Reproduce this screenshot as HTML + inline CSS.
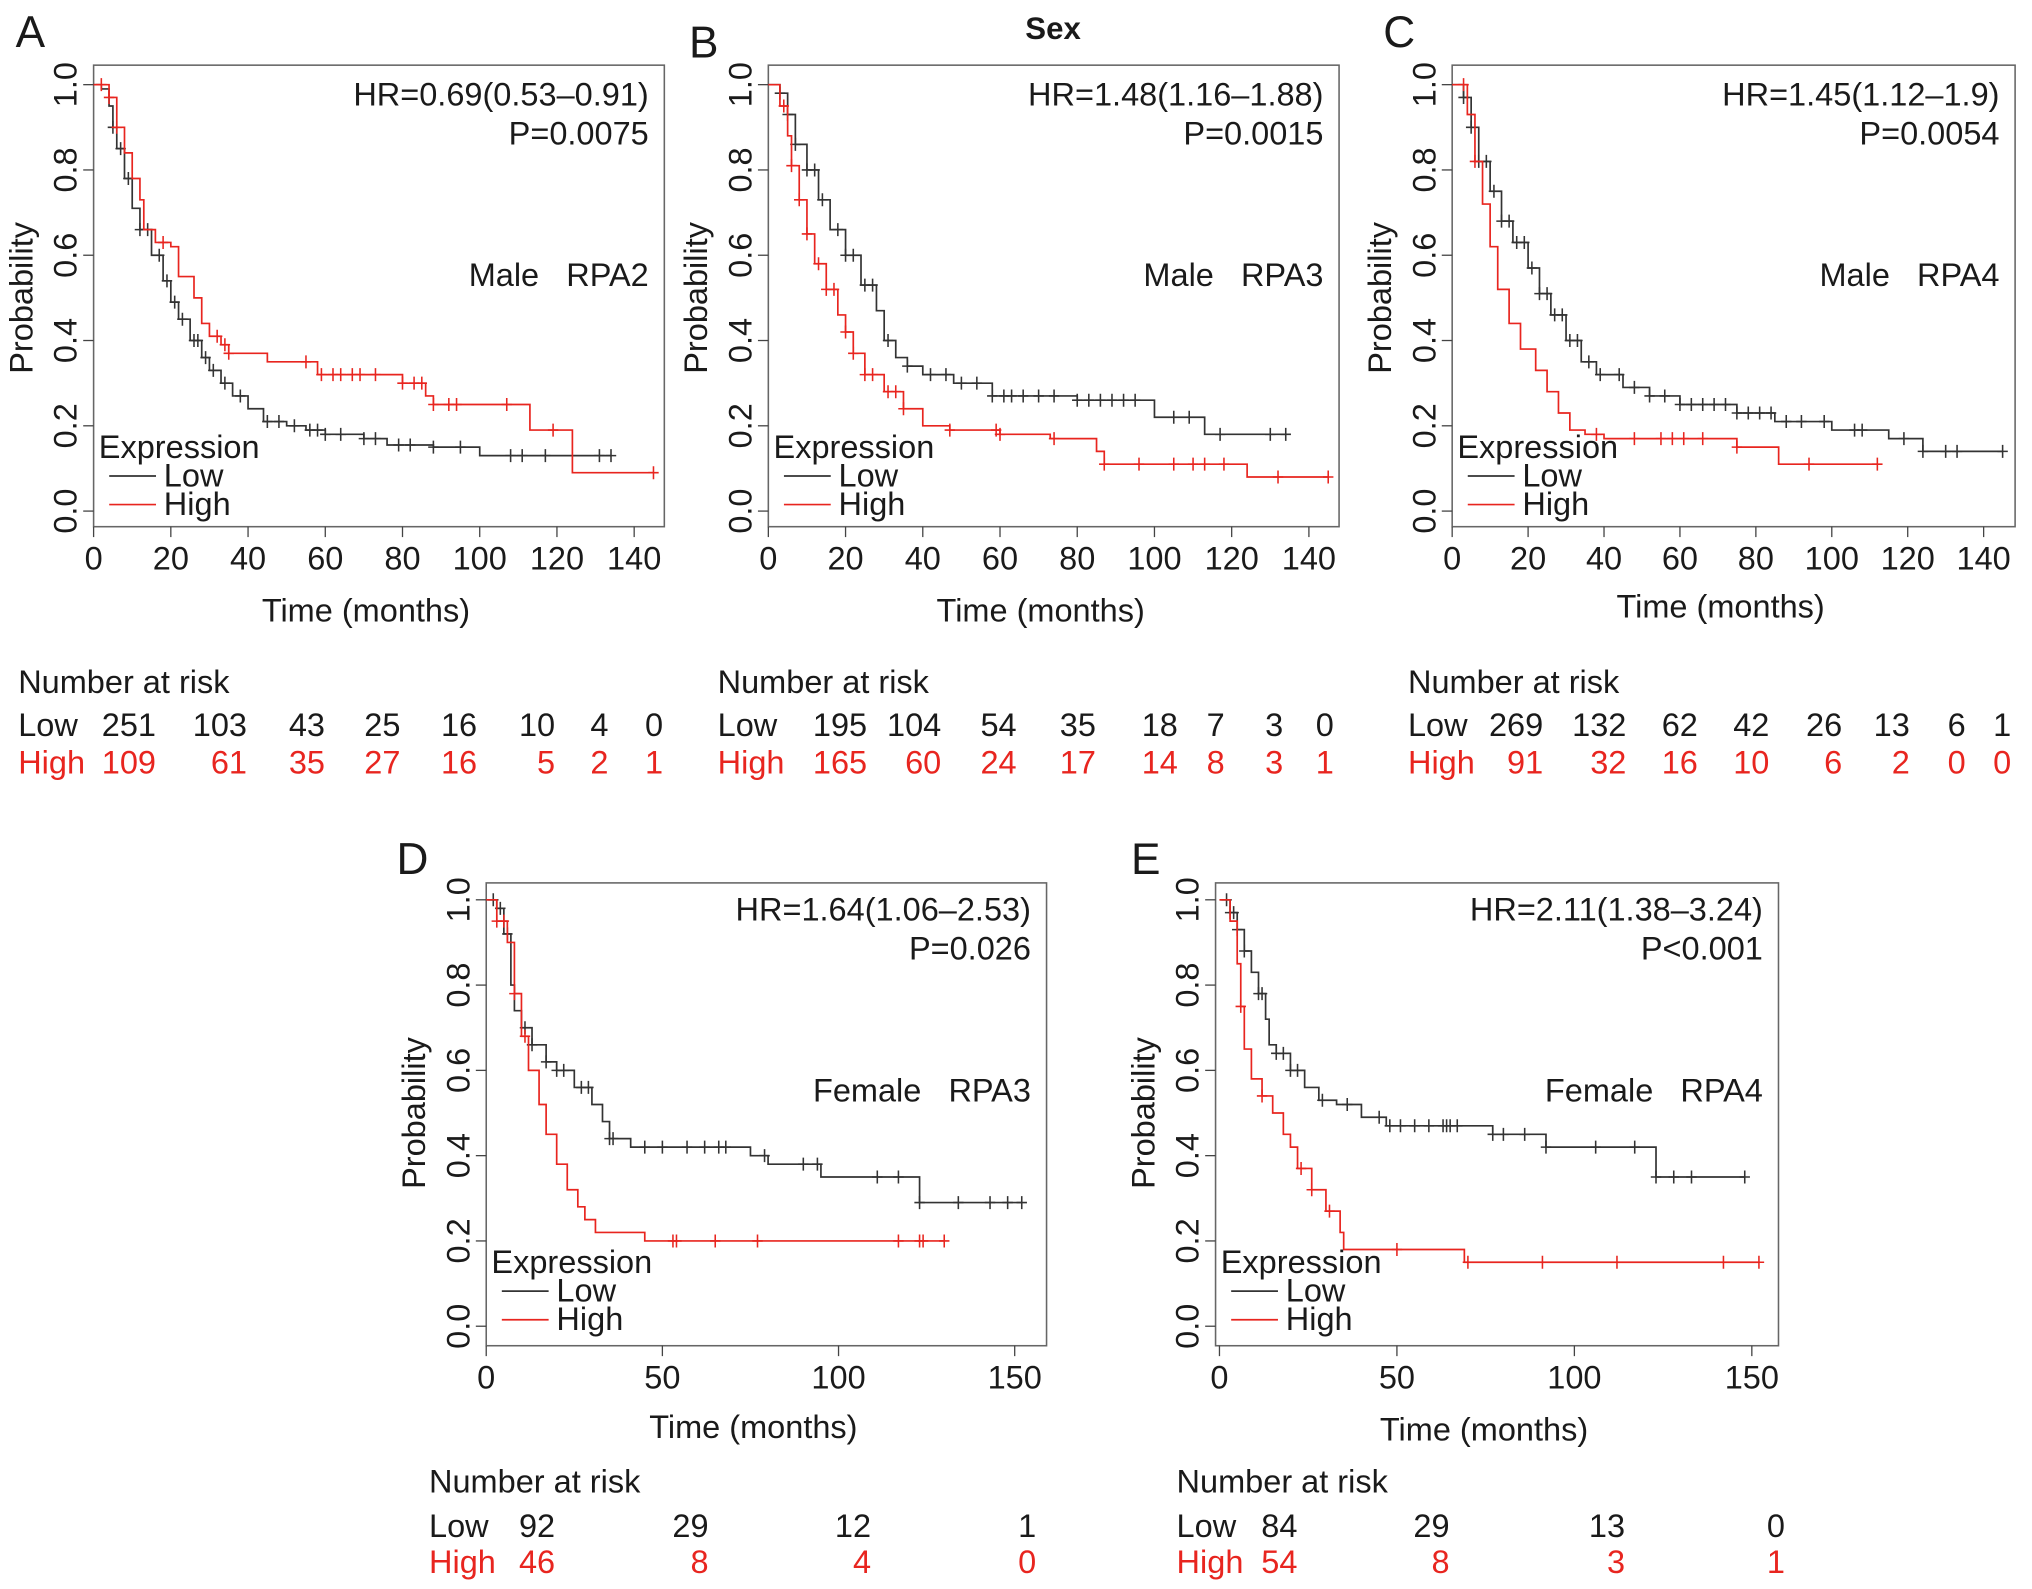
<!DOCTYPE html>
<html><head><meta charset="utf-8"><style>
html,body{margin:0;padding:0;background:#fff}
svg{display:block}
text{font-family:"Liberation Sans",Arial,sans-serif;fill:#1a1a1a;white-space:pre}
.r{fill:#e8251f}
</style></head><body>
<svg id="fig" xmlns="http://www.w3.org/2000/svg" width="2032" height="1589" viewBox="0 0 1563 1222">
<text x="810" y="30" font-size="24" font-weight="bold" text-anchor="middle">Sex</text>
</svg>
<script>
// ---- data ----
const A_lowT=[0,2,4,5,6,8,10,12,15,18,20,22,25,28,30,33,36,40,44,50,55,60,70,76,88,100,134];
const A_lowS=[1,0.99,0.95,0.9,0.85,0.78,0.71,0.66,0.6,0.54,0.49,0.45,0.40,0.36,0.33,0.30,0.27,0.24,0.21,0.20,0.19,0.18,0.17,0.155,0.15,0.13,0.13];
const A_highT=[0,4,6,8,10,12,13,16,20,22,26,28,30,33,35,45,58,80,86,88,113,124,145];
const A_highS=[1,0.97,0.9,0.84,0.78,0.73,0.66,0.63,0.62,0.55,0.5,0.44,0.41,0.39,0.37,0.35,0.32,0.30,0.27,0.25,0.19,0.09,0.09];
const A_lowC=[5,7,9,12,14,17,19,21,23,26,27,29,31,34,38,45,48,52,56,58,60,64,70,73,79,82,88,95,108,111,117,131,134];
const A_highC=[2,4,6,18,32,34,35,55,59,62,64,67,69,73,80,83,85,88,92,94,107,119,145];

const B_lowT=[0,3,5,7,10,13,16,20,24,28,30,33,36,40,48,58,80,100,113,134];
const B_lowS=[1,0.98,0.93,0.86,0.8,0.73,0.66,0.6,0.53,0.47,0.40,0.36,0.34,0.32,0.30,0.27,0.26,0.22,0.18,0.18];
const B_highT=[0,3,5,6,8,10,12,15,18,20,22,25,30,35,40,47,60,73,85,87,124,145];
const B_highS=[1,0.95,0.88,0.81,0.73,0.65,0.58,0.52,0.46,0.42,0.37,0.32,0.28,0.24,0.20,0.19,0.18,0.17,0.14,0.11,0.08,0.08];
const B_lowC=[3,5,7,10,12,14,18,20,22,25,27,31,36,42,46,50,54,58,61,63,66,70,74,80,83,86,89,92,95,105,109,117,130,134];
const B_highC=[4,6,8,10,13,15,17,20,22,25,27,31,33,35,47,59,60,74,87,96,105,110,113,118,132,145];

const C_lowT=[0,3,5,7,10,13,16,20,23,26,30,34,38,45,52,60,75,85,100,115,124,145];
const C_lowS=[1,0.97,0.9,0.82,0.75,0.68,0.63,0.57,0.51,0.46,0.40,0.35,0.32,0.29,0.27,0.25,0.23,0.21,0.19,0.17,0.14,0.14];
const C_highT=[0,4,6,8,10,12,15,18,22,25,28,31,35,40,75,86,112];
const C_highS=[1,0.93,0.82,0.72,0.62,0.52,0.44,0.38,0.33,0.28,0.23,0.19,0.18,0.17,0.15,0.11,0.11];
const C_lowC=[3,5,7,9,11,13,15,17,19,21,23,25,27,29,31,33,36,39,44,48,52,56,60,63,66,69,72,75,78,81,84,88,92,98,106,108,119,124,130,133,145];
const C_highC=[3,6,38,48,55,58,61,66,75,94,112];

const D_lowT=[0,3,5,7,8,10,13,17,20,25,30,33,35,41,75,80,95,123,152];
const D_lowS=[1,0.98,0.92,0.8,0.74,0.7,0.66,0.62,0.6,0.56,0.52,0.48,0.44,0.42,0.40,0.38,0.35,0.29,0.29];
const D_highT=[0,3,6,8,10,12,15,17,20,23,26,28,31,45,130];
const D_highS=[1,0.95,0.9,0.78,0.68,0.6,0.52,0.45,0.38,0.32,0.28,0.25,0.22,0.20,0.20];
const D_lowC=[2,4,6,11,13,17,20,22,27,29,35,36,45,50,57,62,66,68,79,90,94,111,117,123,134,143,148,152];
const D_highC=[3,5,8,11,53,54,65,77,117,123,124,130];

const E_lowT=[0,3,5,7,9,11,13,14,16,20,24,28,33,40,47,77,92,123,148];
const E_lowS=[1,0.97,0.93,0.88,0.83,0.78,0.72,0.66,0.64,0.6,0.56,0.53,0.52,0.49,0.47,0.45,0.42,0.35,0.35];
const E_highT=[0,3,5,6,7,9,12,15,18,20,22,26,30,34,35,69,152];
const E_highS=[1,0.95,0.85,0.75,0.65,0.58,0.54,0.5,0.45,0.42,0.37,0.32,0.27,0.22,0.18,0.15,0.15];
const E_lowC=[2,3,4,5,7,11,12,16,18,20,22,29,36,45,48,51,55,59,63,64,65,67,77,80,86,92,106,117,123,128,133,148];
const E_highC=[6,12,23,26,31,50,70,91,112,142,152];

const A_riskLow=["251","103","43","25","16","10","4","0"];
const A_riskHigh=["109","61","35","27","16","5","2","1"];
const B_riskLow=["195","104","54","35","18","7","3","0"];
const B_riskHigh=["165","60","24","17","14","8","3","1"];
const C_riskLow=["269","132","62","42","26","13","6","1"];
const C_riskHigh=["91","32","16","10","6","2","0","0"];
const D_riskLow=["92","29","12","1"];
const D_riskHigh=["46","8","4","0"];
const E_riskLow=["84","29","13","0"];
const E_riskHigh=["54","8","3","1"];

const xTicksTop=[0,20,40,60,80,100,120,140];
const xTicksBottom=[0,50,100,150];
const yTicks=[0,0.2,0.4,0.6,0.8,1.0];

// ---- layout ----
const NS="http://www.w3.org/2000/svg";
const svg=document.getElementById('fig');
function el(tag,attrs,parent,txt){const e=document.createElementNS(NS,tag);for(const k in attrs)e.setAttribute(k,attrs[k]);if(txt!==undefined)e.textContent=txt;(parent||svg).appendChild(e);return e;}
const FS=25;

const panels=[
 {id:'a',L:'A',lx:12,ly:36,x0:72,box:[72,50,511,405],y1:65,y0:393,ppm:2.97,xt:xTicksTop,hr:'HR=0.69(0.53\u20130.91)',p:'P=0.0075',lab:'Male   RPA2',
  lowT:A_lowT,lowS:A_lowS,highT:A_highT,highS:A_highS,lowC:A_lowC,highC:A_highC,rl:A_riskLow,rh:A_riskHigh,
  rx:[120,190,250,308,367,427,468,510],nx:14,ny:533,lowY:566,highY:595,xtY:438,ttY:478},
 {id:'b',L:'B',lx:530,ly:44,x0:591,box:[591,50,1030,405],y1:65,y0:393,ppm:2.97,xt:xTicksTop,hr:'HR=1.48(1.16\u20131.88)',p:'P=0.0015',lab:'Male   RPA3',
  lowT:B_lowT,lowS:B_lowS,highT:B_highT,highS:B_highS,lowC:B_lowC,highC:B_highC,rl:B_riskLow,rh:B_riskHigh,
  rx:[667,724,782,843,906,942,987,1026],nx:552,ny:533,lowY:566,highY:595,xtY:438,ttY:478},
 {id:'c',L:'C',lx:1064,ly:36,x0:1117,box:[1117,50,1550,405],y1:65,y0:393,ppm:2.92,xt:xTicksTop,hr:'HR=1.45(1.12\u20131.9)',p:'P=0.0054',lab:'Male   RPA4',
  lowT:C_lowT,lowS:C_lowS,highT:C_highT,highS:C_highS,lowC:C_lowC,highC:C_highC,rl:C_riskLow,rh:C_riskHigh,
  rx:[1187,1251,1306,1361,1417,1469,1512,1547],nx:1083,ny:533,lowY:566,highY:595,xtY:438,ttY:475},
 {id:'d',L:'D',lx:305,ly:672,x0:374,box:[374,679,805,1035],y1:692,y0:1020,ppm:2.71,xt:xTicksBottom,hr:'HR=1.64(1.06\u20132.53)',p:'P=0.026',lab:'Female   RPA3',
  lowT:D_lowT,lowS:D_lowS,highT:D_highT,highS:D_highS,lowC:D_lowC,highC:D_highC,rl:D_riskLow,rh:D_riskHigh,
  rx:[427,545,670,797],nx:330,ny:1148,lowY:1182,highY:1210,xtY:1068,ttY:1106},
 {id:'e',L:'E',lx:870,ly:672,x0:938,box:[935,679,1368,1035],y1:692,y0:1020,ppm:2.73,xt:xTicksBottom,hr:'HR=2.11(1.38\u20133.24)',p:'P<0.001',lab:'Female   RPA4',
  lowT:E_lowT,lowS:E_lowS,highT:E_highT,highS:E_highS,lowC:E_lowC,highC:E_highC,rl:E_riskLow,rh:E_riskHigh,
  rx:[998,1115,1250,1373],nx:905,ny:1148,lowY:1182,highY:1210,xtY:1068,ttY:1108}
];

function stepAt(T,S,t){let v=S[0];for(let i=0;i<T.length;i++){if(T[i]<=t)v=S[i];else break;}return v;}

panels.forEach(P=>{
 const g=el('g',{});
 
 
 const X=t=>P.x0+t*P.ppm, Y=s=>P.y0-(P.y0-P.y1)*s;
 const [bx1,by1,bx2,by2]=P.box;
 const lt=el('text',{x:P.lx,y:P.ly,'font-size':34},g,P.L);
 
 
 const box=el('rect',{x:bx1,y:by1,width:bx2-bx1,height:by2-by1,fill:'none',stroke:'#666','stroke-width':1.2},g);
 
 
 yTicks.forEach(v=>{
  el('line',{x1:bx1-8,x2:bx1,y1:Y(v),y2:Y(v),stroke:'#444'},g);
  const t=el('text',{x:0,y:0,'font-size':FS,'text-anchor':'middle',transform:`translate(${bx1-13},${Y(v)}) rotate(-90)`},g,v.toFixed(1));
  
  
 });
 const yt=el('text',{x:0,y:0,'font-size':FS,'text-anchor':'middle',transform:`translate(${bx1-47},${(P.y0+P.y1)/2}) rotate(-90)`},g,'Probability');
 
 
 P.xt.forEach(v=>{
  el('line',{x1:X(v),x2:X(v),y1:by2,y2:by2+8,stroke:'#444'},g);
  const t=el('text',{x:X(v),y:P.xtY,'font-size':FS,'text-anchor':'middle'},g,String(v));
  
  
 });
 const xt=el('text',{x:(bx1+bx2)/2-10,y:P.ttY,'font-size':FS,'text-anchor':'middle'},g,'Time (months)');
 
 
 const hr=el('text',{x:bx2-12,y:P.y1+16,'font-size':FS,'text-anchor':'end'},g,P.hr);
 
 
 const pv=el('text',{x:bx2-12,y:P.y1+46,'font-size':FS,'text-anchor':'end'},g,P.p);
 
 
 const lb=el('text',{x:bx2-12,y:P.y1+155,'font-size':FS,'text-anchor':'end'},g,P.lab);
 
 
 [['low',P.lowT,P.lowS,P.lowC,'#333'],['high',P.highT,P.highS,P.highC,'#e8251f']].forEach(([nm,T,S,C,col])=>{
  let d=`M${X(T[0])},${Y(S[0])}`;
  for(let i=1;i<T.length;i++){d+=` H${X(T[i])} V${Y(S[i])}`;}
  const pth=el('path',{d:d,fill:'none',stroke:col,'stroke-width':1.3},g);
  
  
  C.forEach(t=>{
   const cx=X(t),cy=Y(stepAt(T,S,t));
   const m=el('path',{d:`M${cx},${cy-5}V${cy+5}M${cx-4},${cy}H${cx+4}`,stroke:col,'stroke-width':1.2},g);
   
   
  });
 });
 const lx=bx1+4, ly=P.y0-41;
 const lg=el('g',{},g);
 
 
 el('text',{x:lx,y:ly,'font-size':FS},lg,'Expression');
 el('line',{x1:lx+8,x2:lx+44,y1:ly+14,y2:ly+14,stroke:'#333','stroke-width':1.3},lg);
 el('line',{x1:lx+8,x2:lx+44,y1:ly+36,y2:ly+36,stroke:'#e8251f','stroke-width':1.3},lg);
 const l1=el('text',{x:lx+50,y:ly+22,'font-size':FS},lg,'Low');
 
 
 const l2=el('text',{x:lx+50,y:ly+44,'font-size':FS},lg,'High');
 
 
 const rt=el('g',{},g);
 
 
 el('text',{x:P.nx,y:P.ny,'font-size':FS},rt,'Number at risk');
 el('text',{x:P.nx,y:P.lowY,'font-size':FS},rt,'Low');
 el('text',{x:P.nx,y:P.highY,'font-size':FS,class:'r'},rt,'High');
 P.rl.forEach((v,i)=>{el('text',{x:P.rx[i],y:P.lowY,'font-size':FS,'text-anchor':'end'},rt,v);});
 P.rh.forEach((v,i)=>{el('text',{x:P.rx[i],y:P.highY,'font-size':FS,'text-anchor':'end',class:'r'},rt,v);});
});
</script>
</body></html>
